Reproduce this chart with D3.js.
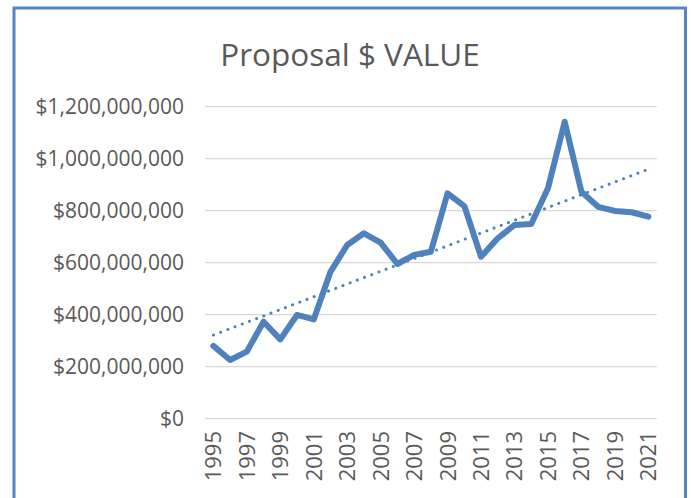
<!DOCTYPE html>
<html>
<head>
<meta charset="utf-8">
<script src="https://cdn.jsdelivr.net/npm/d3@7"></script>
<style>
  body { margin: 0; background: #fff; }
  svg { display: block; }
  text { font-family: "Open Sans", "Noto Sans", sans-serif; fill: #595959; }
</style>
</head>
<body>
<svg id="chart" width="691" height="498"></svg>
<script>
// データ
var years = d3.range(1995, 2022).map(String);
var values = [280, 226, 258, 373, 305, 399, 382, 565, 668, 713, 677, 595, 630, 642,
              867, 818, 623, 694, 745, 749, 886, 1142, 873, 815, 799, 794, 777]
              .map(function(v){ return v * 1e6; });
var yTicks = [0, 2e8, 4e8, 6e8, 8e8, 1e9, 1.2e9];
var xTickYears = years.filter(function(d, i){ return i % 2 === 0; });
var title = "Proposal $ VALUE";

var svg = d3.select("#chart");

// 枠
svg.append("path")
  .attr("d", "M14,510 L14,8 L685.5,8 L685.5,510")
  .attr("fill", "none")
  .attr("stroke", "#5585c5")
  .attr("stroke-width", 3);

// タイトル
svg.append("text")
  .attr("x", 350)
  .attr("y", 66)
  .attr("text-anchor", "middle")
  .attr("font-size", "31.5px")
  .text(title);

var plotLeft = 205, plotRight = 656.7, plotTop = 106.7, plotBottom = 418.7;

var x = d3.scaleBand().domain(years).range([plotLeft, plotRight]);
var y = d3.scaleLinear().domain([0, 1.2e9]).range([plotBottom, plotTop]);
var cx = function(d){ return x(d) + x.bandwidth() / 2; };

// グリッド線
svg.append("g")
  .selectAll("line")
  .data(yTicks)
  .enter().append("line")
  .attr("x1", plotLeft).attr("x2", plotRight)
  .attr("y1", function(d){ return y(d); })
  .attr("y2", function(d){ return y(d); })
  .attr("stroke", "#d9d9d9")
  .attr("stroke-width", 1.3);

// y軸ラベル
var fmt = d3.format("$,");
svg.append("g")
  .selectAll("text")
  .data(yTicks)
  .enter().append("text")
  .attr("x", 184)
  .attr("y", function(d){ return y(d); })
  .attr("dy", "0.36em")
  .attr("text-anchor", "end")
  .attr("font-size", "21px")
  .text(function(d){ return fmt(d); });

// x軸ラベル (縦書き)
svg.append("g")
  .selectAll("text")
  .data(xTickYears)
  .enter().append("text")
  .attr("transform", function(d){ return "translate(" + cx(d) + ",431) rotate(-90)"; })
  .attr("dy", "0.36em")
  .attr("text-anchor", "end")
  .attr("font-size", "22px")
  .text(function(d){ return d; });

// 線形近似
var n = values.length;
var mx = d3.mean(d3.range(n)), my = d3.mean(values);
var slope = d3.sum(values, function(v, i){ return (i - mx) * (v - my); }) /
            d3.sum(values, function(v, i){ return (i - mx) * (i - mx); });
var icpt = my - slope * mx;

svg.append("line")
  .attr("x1", cx(years[0])).attr("y1", y(icpt))
  .attr("x2", cx(years[n - 1])).attr("y2", y(icpt + slope * (n - 1)))
  .attr("stroke", "#4f81bd")
  .attr("stroke-width", 3)
  .attr("stroke-linecap", "round")
  .attr("stroke-dasharray", "0.1 7.6");

// 折れ線
var line = d3.line()
  .x(function(d, i){ return cx(years[i]); })
  .y(function(d){ return y(d); });

svg.append("path")
  .datum(values)
  .attr("d", line)
  .attr("fill", "none")
  .attr("stroke", "#4f81bd")
  .attr("stroke-width", 6)
  .attr("stroke-linejoin", "round")
  .attr("stroke-linecap", "round");
</script>
</body>
</html>
